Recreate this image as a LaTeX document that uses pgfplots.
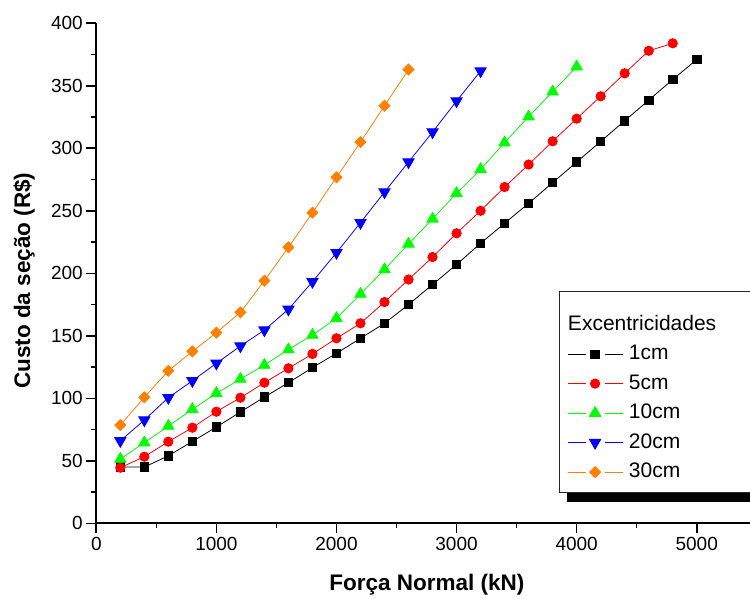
\documentclass[border=0pt]{standalone}
\usepackage{fontspec}
\setmainfont{Liberation Sans}
\usepackage{pgfplots}
\pgfplotsset{compat=1.18}
\definecolor{origorange}{RGB}{255,128,0}
\definecolor{origgreen}{RGB}{0,255,0}
\definecolor{origblue}{RGB}{0,0,255}
\definecolor{origred}{RGB}{255,0,0}

\begin{document}
\begin{tikzpicture}
\begin{axis}[
  scale only axis, width=660pt, height=500pt,
  xmin=0, xmax=5496, ymin=0, ymax=400,
  axis lines=left, axis line style={-, line width=1.8pt},
  xtick={0,1000,...,5000}, ytick={0,50,...,400},
  minor tick num=1,
  tick align=outside,
  major tick length=10pt, minor tick length=5pt,
  every tick/.style={black, line width=1.6pt},
  tick label style={font=\fontsize{19}{22}\selectfont},
  /pgf/number format/assume math mode=true,
  /pgf/number format/set thousands separator={},
  every axis x label/.style={at={(axis description cs:0.501,-0.1234)}, anchor=center,
    font=\fontsize{22.5}{26}\selectfont\bfseries},
  every axis y label/.style={at={(axis description cs:-0.1095,0.485)}, anchor=center, rotate=90,
    font=\fontsize{22.5}{26}\selectfont\bfseries},
  xlabel={Força Normal (kN)},
  ylabel={Custo da seção (R\$)},
  legend cell align=left,
  legend style={at={(0.7015,0.4652)}, anchor=north west, name=leg,
    draw=black!85, line width=0.8pt, fill=white,
    font=\fontsize{21}{25}\selectfont,
    nodes={inner sep=0pt, text height=15pt, text depth=4pt},
    inner xsep=7.5pt, inner ysep=11pt,
    row sep=10.5pt, column sep=6pt},
  legend image code/.code={
    \draw[#1,mark=none] (0pt,0pt) -- (18pt,0pt) (37pt,0pt) -- (55pt,0pt);
    \draw[#1,only marks] plot coordinates {(27.5pt,0pt)};
  },
]
% title row of the legend
\addlegendimage{legend image code/.code={
    \path[draw=none, fill=none] (0pt,0pt) (0pt,22.5pt) (55pt,0pt);
    \node[overlay, anchor=west, inner sep=0pt, text height=15pt, text depth=4pt,
      draw=none, font=\fontsize{21}{25}\selectfont] at (0pt,0pt) {Excentricidades};
  }}
\addlegendentry{\rule{150pt}{0pt}}

% 1cm
\addplot[black, line width=0.8pt, mark=square*, mark size=4.2pt, mark options={solid}] coordinates {
  (200,45) (400,45) (600,54) (800,65.5) (1000,77) (1200,89) (1400,101) (1600,112.5)
  (1800,124.5) (2000,136) (2200,148) (2400,160) (2600,175) (2800,191) (3000,207)
  (3200,224) (3400,240) (3600,256) (3800,272.5) (4000,289) (4200,305.5) (4400,322)
  (4600,338.5) (4800,355) (5000,371)};
\addlegendentry{1cm}

% 5cm
\addplot[origred, line width=0.8pt, mark=*, mark size=4.7pt, mark options={solid}] coordinates {
  (200,44.5) (400,53.3) (600,65.3) (800,76.5) (1000,89.3) (1200,100.5) (1400,112.5)
  (1600,124) (1800,135.5) (2000,148) (2200,160) (2400,177) (2600,195) (2800,213)
  (3000,232) (3200,250) (3400,269) (3600,287) (3800,305.6) (4000,323.7) (4200,341.6)
  (4400,360) (4600,378) (4800,384)};
\addlegendentry{5cm}

% 10cm
\addplot[origgreen, line width=0.8pt, mark=triangle*, mark size=6.5pt, mark options={solid}] coordinates {
  (200,51.4) (400,64.5) (600,77.8) (800,91.2) (1000,104) (1200,115.4) (1400,126.6)
  (1600,139) (1800,150.6) (2000,164) (2200,183.4) (2400,203) (2600,223.5) (2800,243.5)
  (3000,264) (3200,283.2) (3400,304.5) (3600,325.3) (3800,345.3) (4000,365.3)};
\addlegendentry{10cm}

% 20cm
\addplot[origblue, line width=0.8pt, mark=triangle*, mark size=6.5pt, mark options={solid, rotate=180}] coordinates {
  (200,66) (400,82.6) (600,100.5) (800,114) (1000,128) (1200,141.8) (1400,154.6)
  (1600,171.2) (1800,193.3) (2000,216.5) (2200,240.5) (2400,265) (2600,289)
  (2800,313) (3000,337.8) (3200,361.8)};
\addlegendentry{20cm}

% 30cm
\addplot[origorange, line width=0.8pt, mark=square*, mark size=3.9pt, mark options={solid, rotate=45}] coordinates {
  (200,78.6) (400,100.8) (600,122) (800,137.5) (1000,152.5) (1200,168.8) (1400,194.1)
  (1600,220.8) (1800,248.5) (2000,276.8) (2200,305) (2400,334) (2600,363)};
\addlegendentry{30cm}
\end{axis}
% legend shadow strip below the box
\fill[black] ([xshift=7.5pt,yshift=-9.4pt]leg.south west) rectangle ([xshift=60pt,yshift=-0.4pt]leg.south east);
\pgfresetboundingbox
\useasboundingbox (-96.3pt,-74.7pt) rectangle (653.7pt,523.3pt);
\end{tikzpicture}
\end{document}
